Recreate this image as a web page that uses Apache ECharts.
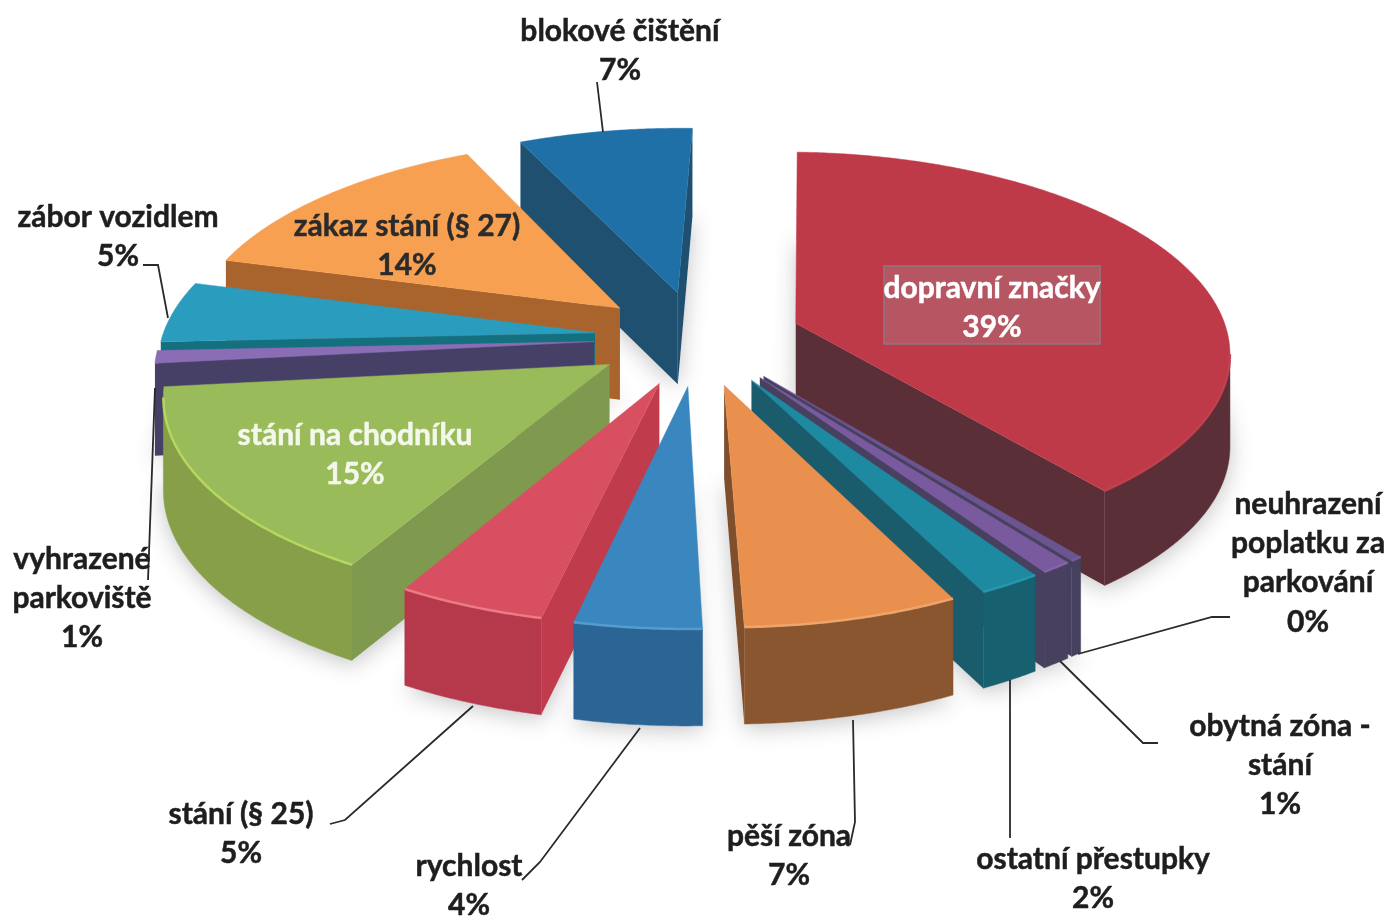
<!DOCTYPE html>
<html><head><meta charset="utf-8">
<style>html,body{margin:0;padding:0;background:#fff}#c{width:1391px;height:917px}</style>
<script src="https://cdn.jsdelivr.net/npm/echarts@6/dist/echarts.min.js"></script>
</head><body><div id="c"></div>
<script>
// ---- data ----
const categories = ['dopravní značky','neuhrazení poplatku za parkování','obytná zóna - stání','ostatní přestupky','pěší zóna','rychlost','stání (§ 25)','stání na chodníku','vyhrazené parkoviště','zábor vozidlem','zákaz stání (§ 27)','blokové čištění'];
const shares = [38.6,0.4,1,2,6.8,4,4.7,15,1,4.9,13.8,7.45];

// ---- styles ----
const topColors  = ['#BE3A49','#6B5590','#7A5A9F','#1E8AA2','#EA904F','#3A86BF','#D84F61','#9ABB5A','#8A6DB5','#2A9CBE','#F7A052','#1F70A6'];
const rimColors  = ['#5B2F38','#45405E','#47405F','#16606F','#8A5630','#2A6596','#B5394A','#869F48','#463F66','#14707F','#A8642C','#1F5070'];
const wallColors = ['#5B2F38','#45405E','#47405F','#1A5C6C','#7F4E2C','#2A6596','#C03C4C','#7F9A4E','#463F66','#14707F','#A8642C','#1F5070'];
const edgeColors = ['#C44050','#7A5A9F','#8566A8','#2A98AE','#F2A870','#58A0D0','#EE8088','#B8DC60','#9A7DC5','#2A9CBE','#F7A052','#1F70A6'];
const labelLines = [['dopravní značky'],['neuhrazení','poplatku za','parkování'],['obytná zóna -','stání'],['ostatní přestupky'],['pěší zóna'],['rychlost'],['stání (§ 25)'],['stání na chodníku'],['vyhrazené','parkoviště'],['zábor vozidlem'],['zákaz stání (§ 27)'],['blokové čištění']];
const labelX = [992,1308,1280,1093,789,469,241,355,82,118,407,620];
const labelY = [288,504,726,859,836,866,814,435,559,217,226,31];
const labelFill = ['#FFFFFF','#1E1E1E','#1E1E1E','#1E1E1E','#1E1E1E','#1E1E1E','#1E1E1E','#F4F8EC','#1E1E1E','#1E1E1E','#2B2B2B','#1E1E1E'];
const leaders = [
  [], [[1230,617],[1212,617],[1078,654]], [[1158,743],[1143,743],[1060,661]], [[1010,680],[1010,838]],
  [[853,720],[855,822],[850,845]], [[640,728],[540,862],[522,880]], [[473,706],[345,820],[330,824]], [],
  [[155,388],[148,580]], [[143,265],[158,265],[168,318]], [], [[597,82],[603,132]]
];

// ---- projection ----
const CX=698, CY=338, R=433, TILT=0.455, PERSP=0.0003, H=92, EXPLODE=104, START=1.9;
const total = shares.reduce((a,b)=>a+b,0);
function project(X,Y){const s=1/(1-Y*PERSP);return [CX+X*s,CY+TILT*Y*s,s];}
function world(deg,r){const t=deg*Math.PI/180;return [r*Math.sin(t),-r*Math.cos(t)];}
let acc=START;
const wedges = shares.map((v,i)=>{
  const a0=acc,a1=acc+v/total*360;acc=a1;
  const mid=(a0+a1)/2,off=world(mid,EXPLODE);
  const at=(deg,r)=>{const w=world(deg,r);return project(w[0]+off[0],w[1]+off[1]);};
  const n=Math.max(2,Math.ceil(a1-a0)*2),arc=[];
  for(let k=0;k<=n;k++)arc.push(at(a0+(a1-a0)*k/n,R));
  return {i,apex:at(0,0),arc,depth:world(mid,R*0.6)[1]+off[1]};
});
const order=wedges.slice().sort((a,b)=>a.depth-b.depth);
order.forEach((w,r)=>w.rank=r);
const drop=p=>[p[0],p[1]+H*(0.72+0.28*p[2])];
const xy=p=>[p[0],p[1]];
function face(a,b){return [xy(a),xy(b),drop(b),drop(a)];}

function renderWedge(params,api){
  const w=wedges[api.value(0)],i=w.i,base=(w.rank+1)*10,ch=[];
  ch.push({type:'polygon',z2:1,shape:{points:[w.apex].concat(w.arc).map(drop)},style:{fill:'#fff',shadowBlur:22,shadowOffsetY:4,shadowColor:'rgba(60,60,70,0.30)'},silent:true});
  const a0=w.arc[0],a1=w.arc[w.arc.length-1];
  if(a0[0]<w.apex[0])ch.push({type:'polygon',z2:base+1,shape:{points:face(w.apex,a0)},style:{fill:wallColors[i]}});
  if(w.apex[0]<a1[0])ch.push({type:'polygon',z2:base+1,shape:{points:face(a1,w.apex)},style:{fill:wallColors[i]}});
  let run=[];
  const flush=()=>{if(run.length>1){
      const pts=run.map(xy).concat(run.slice().reverse().map(drop));
      ch.push({type:'polygon',z2:base+2,shape:{points:pts},style:{fill:rimColors[i],stroke:rimColors[i],lineWidth:.5}});
      ch.push({type:'polyline',z2:base+4,shape:{points:run.map(xy)},style:{fill:'none',stroke:edgeColors[i],lineWidth:2.5,opacity:.9}});
    } run=[];};
  for(let k=0;k<w.arc.length-1;k++){
    if(w.arc[k+1][0]<w.arc[k][0]){if(!run.length)run.push(w.arc[k]);run.push(w.arc[k+1]);}else flush();
  }
  flush();
  ch.push({type:'polygon',z2:base+3,shape:{points:[w.apex].concat(w.arc).map(xy)},style:{fill:topColors[i],stroke:topColors[i],lineWidth:.5}});
  return {type:'group',children:ch};
}
function renderLabel(params,api){
  const i=api.value(0),ch=[];
  const lines=labelLines[i].concat([Math.round(shares[i])+'%']);
  if(i===0)ch.push({type:'rect',z2:500,shape:{x:884,y:266,width:216,height:78},style:{fill:'rgba(175,110,120,0.55)',stroke:'#8C7A7E',lineWidth:1.5}});
  if(leaders[i].length)ch.push({type:'polyline',z2:501,shape:{points:leaders[i]},style:{fill:'none',stroke:'#2A2A2A',lineWidth:1.8}});
  lines.forEach((t,k)=>ch.push({type:'text',z2:502,style:{text:t,x:labelX[i],y:labelY[i]+k*39.3,align:'center',verticalAlign:'middle',fill:labelFill[i],stroke:labelFill[i],lineWidth:0.5,font:'700 30px Lato, "Noto Sans", sans-serif'}}));
  return {type:'group',children:ch};
}
const chart=echarts.init(document.getElementById('c'),null,{renderer:'canvas'});
chart.setOption({
  animation:false,backgroundColor:'#fff',
  series:[
    {type:'custom',coordinateSystem:'none',renderItem:renderWedge,data:categories.map((c,i)=>({name:c,value:[i]})),encode:{value:0}},
    {type:'custom',coordinateSystem:'none',renderItem:renderLabel,z:5,data:categories.map((c,i)=>({name:c,value:[i]})),encode:{value:0}}
  ]
});
</script></body></html>
